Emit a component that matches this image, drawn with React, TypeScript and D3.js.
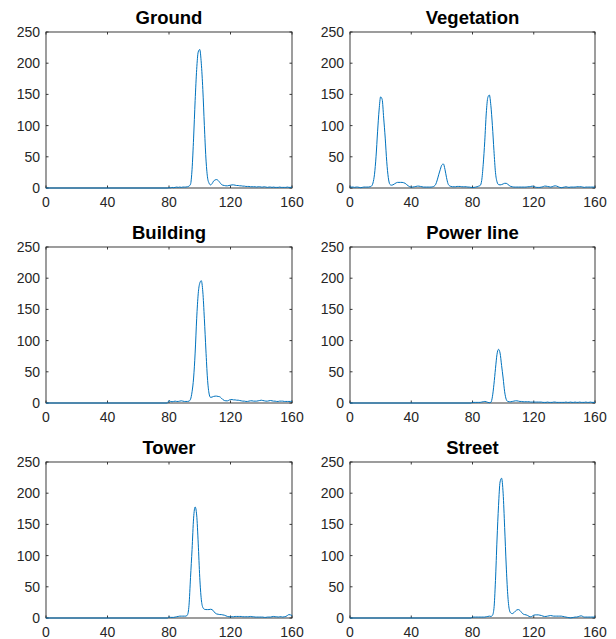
import React from 'react';
import * as d3 from 'd3';

// ---- data ----
const titles = ['Ground', 'Vegetation', 'Building', 'Power line', 'Tower', 'Street'];
const xTicks = [0, 40, 80, 120, 160];
const yTicks = [0, 50, 100, 150, 200, 250];
const xDomain = [0, 160];
const yDomain = [0, 250];

// flat zero segment for the series that only start at x = 79
const zeroLeadX = [0, 79];
const zeroLeadY = [0, 0];

// values for x = 79 .. 160
const groundValues = [
  0,
  0.5, 0.3, 1, 0.5, 1, 1.5, 1, 1.5, 1, 1.5,
  1.5, 1.5, 2, 3, 6, 30, 80, 140, 190, 218,
  222, 200, 158, 100, 48, 18, 8, 5, 7, 11,
  13, 13.5, 12, 9, 6, 4.5, 4, 3.5, 3.5, 4,
  4.5, 5, 5, 4.5, 4, 4, 3.5, 3.5, 3, 3,
  2.5, 2.5, 2.5, 2, 2, 2, 2, 1.5, 2, 2,
  1.5, 1.5, 2, 1.5, 1, 1.5, 1.5, 1, 1.5, 1,
  1, 1, 1.5, 1, 1, 1, 1, 1.5, 1, 1,
  1.5,
];

// values for x = 0 .. 160
const vegetationValues = [
  1.5, 1.5, 1.5, 1, 1.5, 1.5, 1, 0.5, 1, 1.5,
  1.5, 1.5, 1.5, 2, 3, 8, 22, 50, 90, 125,
  146, 142, 112, 80, 42, 17, 6, 4.5, 5, 6.5,
  8, 9, 9, 9, 9, 8.5, 7.5, 5.5, 3.5, 2,
  1.5, 1.5, 2, 2.5, 3, 3, 2.5, 2, 1.5, 1.5,
  1.5, 1.5, 1.5, 1.5, 2, 3, 6, 13, 22, 30,
  37, 38.5, 30, 17, 7, 3.5, 2.5, 2, 2, 2,
  2.5, 2.5, 2.5, 2, 2, 2, 2, 1.5, 1.5, 1,
  1, 1, 1.5, 2, 3, 4, 12, 38, 75, 120,
  145, 149, 132, 100, 60, 25, 10, 5.5, 5, 5.5,
  6.5, 7.5, 7.5, 6, 4, 2.5, 2, 1.5, 1.5, 1.5,
  1.5, 1.5, 1.5, 1.5, 1.5, 1.5, 2, 2, 2.5, 3,
  2.5, 1.5, 1, 1, 1, 1.5, 2, 3, 3, 2.5,
  2, 1.5, 2, 3, 3.5, 3, 2, 1, 0.5, 1,
  1.5, 2, 1.5, 1, 1.5, 1.5, 1.5, 1.5, 2, 2,
  2, 2, 1.5, 1, 1.5, 1.5, 1.5, 1.5, 1.5, 1.5,
  1.5,
];

const buildingValues = [
  0,
  4, 2.5, 2, 2.5, 3, 2.5, 2.5, 3, 3.5, 3,
  2.5, 2.5, 2.5, 3, 6, 18, 40, 80, 135, 175,
  192, 196, 178, 135, 85, 40, 16, 9, 9.5, 10.5,
  11, 11, 10.5, 10, 8, 5.5, 4, 3.5, 3.5, 4.5,
  5.5, 5.5, 5, 5, 4.5, 4.5, 4, 3.5, 3, 3,
  2.5, 2.5, 3, 3.5, 3.5, 3, 3, 3, 3.5, 4,
  4.5, 4, 3.5, 3, 3, 3.5, 4, 3.5, 3, 3,
  2.5, 2.5, 3, 3, 3, 2.5, 2.5, 2.5, 2.5, 2.5,
  3,
];

const powerLineValues = [
  0,
  1, 1, 1, 1, 1, 1, 1.5, 2, 2.5, 2,
  1, 0.5, 1, 10, 30, 55, 78, 86, 80, 60,
  40, 18, 6, 2.5, 2, 2, 2.5, 3, 3.5, 3.5,
  3, 2.5, 2.5, 2, 2, 2, 2, 2, 1.5, 1.5,
  1.5, 1.5, 1.5, 1.5, 1.5, 1.5, 1, 1, 1, 1.5,
  1, 1, 1, 1.5, 1.5, 1, 1, 1, 1, 1,
  1, 1.5, 1, 1, 1.5, 1, 1, 1.5, 1, 1,
  1.5, 1, 1, 1, 1.5, 1, 1, 1.5, 1, 1,
  1,
];

const towerValues = [
  0,
  2, 1, 1, 1, 1.5, 2, 2.5, 3, 3, 3,
  3, 3, 5, 20, 65, 110, 160, 178, 165, 120,
  65, 30, 17, 14, 13.5, 13.5, 13.5, 14, 13.5, 11,
  8, 6.5, 6, 5.5, 5.5, 5, 4.5, 3.5, 2.5, 2,
  2, 2, 2, 2.5, 2.5, 2.5, 2.5, 2.5, 2, 2,
  2, 2, 2, 2.5, 2, 2, 1.5, 1.5, 1.5, 1.5,
  1.5, 1.5, 1, 1, 1.5, 1.5, 1.5, 2, 2.5, 2,
  2, 1.5, 2, 2, 1.5, 2, 2.5, 4, 5.5, 5,
  4,
];

const streetValues = [
  0,
  1.5, 1.5, 1.5, 1.5, 1.5, 1.5, 1.5, 1.5, 1.5, 2,
  2.5, 3, 2.5, 4, 15, 60, 125, 180, 218, 224,
  200, 145, 85, 38, 14, 8, 7, 8.5, 11, 13,
  13.5, 12, 9, 6.5, 5.5, 5, 4, 2.5, 2, 3,
  4.5, 5, 5, 5, 4.5, 4, 3, 2.5, 2.5, 3,
  3.5, 4, 3.5, 3, 3, 3, 3, 3, 3, 2.5,
  2, 1.5, 1, 0.5, 0.2, 0.5, 1, 1.5, 1.5, 2,
  3, 3.5, 2.5, 1.5, 1.5, 1.5, 1.5, 1.5, 1.5, 1.5,
  2,
];

const seriesStart = [79, 0, 79, 79, 79, 79];
const seriesValues = [groundValues, vegetationValues, buildingValues, powerLineValues, towerValues, streetValues];

// ---- layout ----
const W = 616;
const H = 639;
const colLeft = [46, 350];
const colRight = [292, 595];
const rowTop = [32, 247, 462];
const plotH = 156;
const axisColor = '#262626';
const lineColor = '#0072BD';
const tickLen = 2.5;
const font = '"Liberation Sans", Arial, Helvetica, sans-serif';

function buildPoints(i: number): [number, number][] {
  const start = seriesStart[i];
  const vals = seriesValues[i];
  const pts: [number, number][] = [];
  if (start > 0) {
    for (let k = 0; k < zeroLeadX.length; k++) pts.push([zeroLeadX[k], zeroLeadY[k]]);
  }
  vals.forEach((v, k) => {
    if (start > 0 && k === 0) return; // same as the end of the zero lead
    pts.push([start + k, v]);
  });
  return pts;
}

function Panel({ idx }: { idx: number }) {
  const col = idx % 2;
  const row = Math.floor(idx / 2);
  const x0 = colLeft[col];
  const x1 = colRight[col];
  const y0 = rowTop[row];
  const y1 = y0 + plotH;
  const x = d3.scaleLinear().domain(xDomain).range([x0, x1]);
  const y = d3.scaleLinear().domain(yDomain).range([y1, y0]);
  const pts = buildPoints(idx);
  const line = d3
    .line<[number, number]>()
    .x((d) => x(d[0]))
    .y((d) => y(d[1]))
    .curve(d3.curveMonotoneX);

  return (
    <g>
      <text
        x={(x0 + x1) / 2}
        y={y0 - 8}
        textAnchor="middle"
        fontFamily={font}
        fontWeight="bold"
        fontSize={18.5}
        fill="#000"
      >
        {titles[idx]}
      </text>
      <rect x={x0} y={y0} width={x1 - x0} height={plotH} fill="#fff" stroke={axisColor} strokeWidth={0.9} />
      {xTicks.map((t) => (
        <g key={'x' + t}>
          <line x1={x(t)} x2={x(t)} y1={y1} y2={y1 - tickLen} stroke={axisColor} strokeWidth={0.9} />
          <line x1={x(t)} x2={x(t)} y1={y0} y2={y0 + tickLen} stroke={axisColor} strokeWidth={0.9} />
          <text x={x(t)} y={y1 + 19} textAnchor="middle" fontFamily={font} fontSize={14} fill={axisColor}>
            {t}
          </text>
        </g>
      ))}
      {yTicks.map((t) => (
        <g key={'y' + t}>
          <line x1={x0} x2={x0 + tickLen} y1={y(t)} y2={y(t)} stroke={axisColor} strokeWidth={0.9} />
          <line x1={x1} x2={x1 - tickLen} y1={y(t)} y2={y(t)} stroke={axisColor} strokeWidth={0.9} />
          <text
            x={x0 - 6}
            y={y(t)}
            dy="0.35em"
            textAnchor="end"
            fontFamily={font}
            fontSize={14}
            fill={axisColor}
          >
            {t}
          </text>
        </g>
      ))}
      <path d={line(pts) || ''} fill="none" stroke={lineColor} strokeWidth={1} strokeLinejoin="round" />
    </g>
  );
}

export default function App() {
  return (
    <svg
      width={W}
      height={H}
      viewBox={`0 0 ${W} ${H}`}
      style={{ position: 'absolute', left: 0, top: 0, background: '#fff' }}
    >
      <rect x={0} y={0} width={W} height={H} fill="#fff" />
      {titles.map((_, i) => (
        <Panel key={i} idx={i} />
      ))}
    </svg>
  );
}
